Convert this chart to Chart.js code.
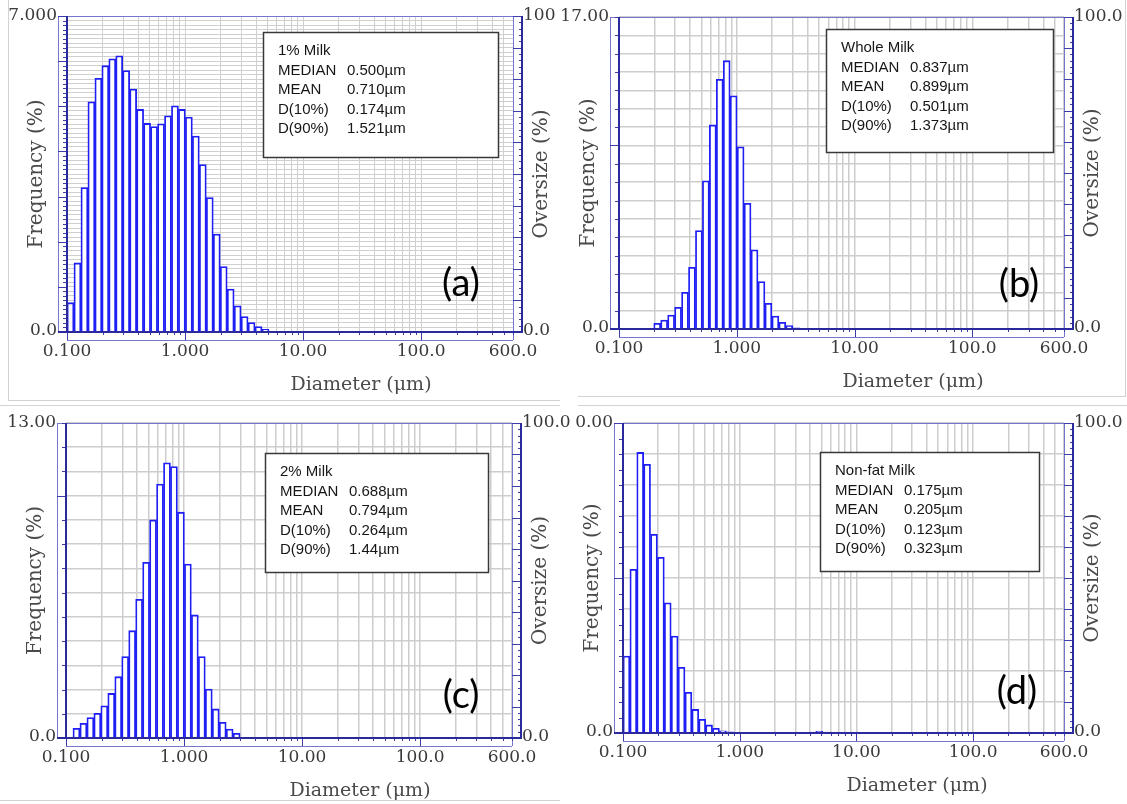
<!DOCTYPE html>
<html>
<head>
<meta charset="utf-8">
<title>Milk particle size distributions</title>
<script src="https://cdn.jsdelivr.net/npm/chart.js@4.4.1/dist/chart.umd.min.js"></script>
<style>
    html, body { margin: 0; padding: 0; background: #ffffff; }
    #page { position: relative; width: 1127px; height: 804px; overflow: hidden; background: #ffffff; }
    #page canvas { position: absolute; }
    .edge { position: absolute; background: #d2d2d2; }
</style>
</head>
<body>
<div id="page">
    <div class="edge" style="left:8px;top:0;width:1px;height:400px"></div>
    <div class="edge" style="left:8px;top:400px;width:552px;height:1px"></div>
    <div class="edge" style="left:1125px;top:0;width:1px;height:396px"></div>
    <div class="edge" style="left:578px;top:396px;width:548px;height:1px"></div>
    <div class="edge" style="left:0;top:405px;width:560px;height:1px"></div>
    <div class="edge" style="left:0;top:800px;width:560px;height:1px"></div>
    <div class="edge" style="left:578px;top:405px;width:549px;height:1px"></div>
    <canvas id="chart-a"></canvas>
    <canvas id="chart-b"></canvas>
    <canvas id="chart-c"></canvas>
    <canvas id="chart-d"></canvas>
</div>
<script>
    // Channel centre diameters (um) of the analyser, one per bar
    var DIAMETERS = [0.107, 0.1226, 0.1404, 0.1609, 0.1843, 0.2111, 0.2418, 0.2770, 0.3173, 0.3635,
        0.4164, 0.4770, 0.5464, 0.6259, 0.7169, 0.8212, 0.9407, 1.078, 1.234, 1.414,
        1.620, 1.856, 2.126, 2.435, 2.789, 3.195, 3.660, 4.192, 4.802, 5.501];

    // Frequency (%) per channel
    var FREQ_1PCT = [0.65, 1.53, 3.20, 5.10, 5.62, 5.90, 6.05, 6.12, 5.79, 5.38,
        4.93, 4.62, 4.55, 4.61, 4.79, 5.01, 4.93, 4.76, 4.34, 3.71,
        2.98, 2.17, 1.45, 0.95, 0.58, 0.34, 0.21, 0.12, 0.06];
    var FREQ_WHOLE = [0, 0, 0, 0, 0, 0.31, 0.49, 0.76, 1.18, 2.00,
        3.36, 5.36, 8.07, 11.12, 13.61, 14.62, 12.71, 9.93, 6.85, 4.31,
        2.58, 1.40, 0.71, 0.37, 0.18, 0.07];
    var FREQ_2PCT = [0, 0.40, 0.61, 0.84, 1.02, 1.33, 1.84, 2.53, 3.36, 4.43,
        5.72, 7.25, 9.00, 10.48, 11.36, 11.20, 9.32, 7.18, 5.08, 3.36,
        2.02, 1.20, 0.65, 0.37, 0.19];
    var FREQ_NONFAT = [4.96, 10.56, 18.10, 17.34, 12.82, 11.34, 8.40, 6.26, 4.24, 2.62,
        1.52, 0.88, 0.52, 0.30, 0.14, 0.08, 0, 0, 0, 0,
        0, 0, 0, 0, 0, 0, 0, 0.06, 0.10, 0.06];

    // Axis labels
    var X_LABEL_VALUES = [0.1, 1, 10, 100, 600];
    var X_LABELS = ['0.100', '1.000', '10.00', '100.0', '600.0'];
    var X_DECADES = [0.1, 1, 10, 100];
    var X_STEPS = [1, 2, 3, 4, 5, 6, 7, 8, 9];
    var STAT_NAMES = ['MEDIAN', 'MEAN', 'D(10%)', 'D(90%)'];
    var STATS_1PCT = ['0.500\u00b5m', '0.710\u00b5m', '0.174\u00b5m', '1.521\u00b5m'];
    var STATS_WHOLE = ['0.837\u00b5m', '0.899\u00b5m', '0.501\u00b5m', '1.373\u00b5m'];
    var STATS_2PCT = ['0.688\u00b5m', '0.794\u00b5m', '0.264\u00b5m', '1.44\u00b5m'];
    var STATS_NONFAT = ['0.175\u00b5m', '0.205\u00b5m', '0.123\u00b5m', '0.323\u00b5m'];

    var BAR_BLUE = 'rgb(30, 30, 245)';
    var FRAME_BLUE = '#7676cc';
    var AXIS_BLUE = '#2a2a9c';
    var TICK_BLUE = '#3c3caa';
    var LABEL_GREY = '#3a3a3a';
    var SERIF = '"DejaVu Serif", "Liberation Serif", serif';

    // vertical grid at 1..9 x each decade
    var X_GRID = [];
    X_DECADES.forEach(function (d) {
        X_STEPS.forEach(function (s) {
            var v = +(d * s).toPrecision(3);
            if (v <= 600) { X_GRID.push(v); }
        });
    });
    X_GRID.push(600);

    var PANELS = [
        { id: 'chart-a', left: 0, top: 0, width: 560, height: 400,
          area: { left: 67, right: 513, top: 16, bottom: 332 },
          freq: FREQ_1PCT, yMax: 7, yGrid: 0.1, yMinor: 0.1, yMajor: 1,
          yTop: '7.000', rightTop: '100', gridColor: '#cfcfcf', gridWidth: 1,
          name: '1% Milk', stats: STATS_1PCT, box: { x: 196, y: 16, w: 235, h: 125 },
          letter: '(a)', letterAt: { dx: -52, dy: -48 } },
        { id: 'chart-b', left: 560, top: 0, width: 567, height: 400,
          area: { left: 59, right: 504, top: 17, bottom: 329 },
          freq: FREQ_WHOLE, yMax: 17, yGrid: 1, yMinor: 1, yMajor: 10,
          yTop: '17.00', rightTop: '100.0', gridColor: '#cdcdcd', gridWidth: 1.5,
          name: 'Whole Milk', stats: STATS_WHOLE, box: { x: 207, y: 12, w: 227, h: 123 },
          letter: '(b)', letterAt: { dx: -45, dy: -44 } },
        { id: 'chart-c', left: 0, top: 400, width: 576, height: 404,
          area: { left: 66, right: 512, top: 23, bottom: 338 },
          freq: FREQ_2PCT, yMax: 13, yGrid: 1, yMinor: 1, yMajor: 10,
          yTop: '13.00', rightTop: '100.0', gridColor: '#cdcdcd', gridWidth: 1.5,
          name: '2% Milk', stats: STATS_2PCT, box: { x: 199, y: 30, w: 223, h: 119 },
          letter: '(c)', letterAt: { dx: -51, dy: -42 } },
        { id: 'chart-d', left: 560, top: 400, width: 567, height: 404,
          area: { left: 63, right: 504, top: 23, bottom: 333 },
          freq: FREQ_NONFAT, yMax: 20, yGrid: 2, yMinor: 1, yMajor: 10,
          yTop: '0.00', rightTop: '100.0', gridColor: '#cdcdcd', gridWidth: 1.5,
          name: 'Non-fat Milk', stats: STATS_NONFAT, box: { x: 197, y: 29, w: 219, h: 119 },
          letter: '(d)', letterAt: { dx: -47, dy: -41 } }
    ];

    function stepValues(max, step) {
        var out = [];
        var n = Math.round(max / step);
        for (var i = 0; i <= n; i++) {
            out.push({ value: +(i * step).toFixed(4) });
        }
        return out;
    }

    function hline(ctx, x1, x2, y, color, w) {
        var o = (w % 2) ? 0.5 : 0;
        ctx.beginPath();
        ctx.strokeStyle = color;
        ctx.lineWidth = w;
        ctx.moveTo(x1, y + o);
        ctx.lineTo(x2, y + o);
        ctx.stroke();
    }

    function vline(ctx, x, y1, y2, color, w) {
        var o = (w % 2) ? 0.5 : 0;
        ctx.beginPath();
        ctx.strokeStyle = color;
        ctx.lineWidth = w;
        ctx.moveTo(x + o, y1);
        ctx.lineTo(x + o, y2);
        ctx.stroke();
    }

    function isMultiple(v, step) {
        var r = v / step;
        return Math.abs(r - Math.round(r)) < 1e-6;
    }

    // Frames, ticks, labels, statistics box and panel letter
    function makeFramePlugin(p) {
        return {
            id: 'psdFrame',
            afterDraw: function (chart) {
                var ctx = chart.ctx;
                var a = chart.chartArea;
                var xs = chart.scales.x, ys = chart.scales.y, os = chart.scales.y2;
                var L = Math.round(a.left), R = Math.round(a.right);
                var T = Math.round(a.top), B = Math.round(a.bottom);
                var outL = L - 9, outR = R + 9, outB = B + 8;
                var i, v, y, x;
                ctx.save();

                // thin outer frame
                hline(ctx, outL, outR, T, FRAME_BLUE, 1);
                vline(ctx, outL, T, B, FRAME_BLUE, 1);
                vline(ctx, R, T, outB, FRAME_BLUE, 1);
                vline(ctx, L, B, outB, FRAME_BLUE, 1);
                hline(ctx, L, R, outB, FRAME_BLUE, 1);

                // frequency ticks
                var nMinor = Math.round(p.yMax / p.yMinor);
                for (i = 0; i <= nMinor; i++) {
                    v = i * p.yMinor;
                    y = Math.round(ys.getPixelForValue(v));
                    hline(ctx, isMultiple(v, p.yMajor) ? outL : L - 4, L, y, TICK_BLUE, 1);
                }
                // oversize ticks
                for (v = 0; v <= 100; v += 2) {
                    y = Math.round(os.getPixelForValue(v));
                    hline(ctx, (v % 10 === 0) ? R : outR - 3, outR, y, TICK_BLUE, 1);
                }
                // diameter ticks
                X_GRID.forEach(function (d) {
                    var px = Math.round(xs.getPixelForValue(d));
                    vline(ctx, px, B, X_DECADES.indexOf(d) >= 0 ? outB : B + 3, TICK_BLUE, 1);
                });

                // dark axis lines
                vline(ctx, L, T, B, AXIS_BLUE, 2);
                vline(ctx, outR, T, B + 1, AXIS_BLUE, 2);
                hline(ctx, outL, outR, B, AXIS_BLUE, 2);

                // tick labels
                ctx.fillStyle = LABEL_GREY;
                ctx.font = '17px ' + SERIF;
                ctx.textBaseline = 'middle';
                ctx.textAlign = 'center';
                for (i = 0; i < X_LABEL_VALUES.length; i++) {
                    x = xs.getPixelForValue(X_LABEL_VALUES[i]);
                    ctx.fillText(X_LABELS[i], x, outB + 12);
                }
                ctx.textAlign = 'right';
                ctx.fillText(p.yTop, outL - 1, T);
                ctx.fillText('0.0', outL - 1, B - 1);
                ctx.textAlign = 'left';
                ctx.fillText(p.rightTop, outR + 1, T);
                ctx.fillText('0.0', outR + 1, B - 1);

                // axis titles
                ctx.fillStyle = '#4a4a4a';
                ctx.font = '20px ' + SERIF;
                ctx.textAlign = 'center';
                ctx.save();
                ctx.translate(L - 30, (T + B) / 2);
                ctx.rotate(-Math.PI / 2);
                ctx.fillText('Frequency (%)', 0, 0);
                ctx.restore();
                ctx.save();
                ctx.translate(R + 29, (T + B) / 2);
                ctx.rotate(-Math.PI / 2);
                ctx.fillText('Oversize (%)', 0, 0);
                ctx.restore();
                ctx.font = '19px ' + SERIF;
                ctx.fillText('Diameter (\u03bcm)', L + 294, B + 53);

                // statistics box
                var bx = L + p.box.x, by = T + p.box.y;
                ctx.fillStyle = '#ffffff';
                ctx.fillRect(bx, by, p.box.w, p.box.h);
                ctx.strokeStyle = '#383838';
                ctx.lineWidth = 1.5;
                ctx.strokeRect(bx + 0.5, by + 0.5, p.box.w, p.box.h);
                ctx.fillStyle = '#161616';
                ctx.font = '15px "Liberation Sans", Arial, sans-serif';
                ctx.textAlign = 'left';
                ctx.fillText(p.name, bx + 15, by + 19);
                for (i = 0; i < STAT_NAMES.length; i++) {
                    ctx.fillText(STAT_NAMES[i], bx + 15, by + 19 + 19.5 * (i + 1));
                    ctx.fillText(p.stats[i], bx + 84, by + 19 + 19.5 * (i + 1));
                }

                // panel letter
                ctx.fillStyle = '#000000';
                ctx.font = '38px Lato, "Open Sans", sans-serif';
                ctx.textAlign = 'center';
                ctx.fillText(p.letter, R + p.letterAt.dx, B + p.letterAt.dy);
                ctx.restore();
            }
        };
    }

    function buildChart(p) {
        var canvas = document.getElementById(p.id);
        canvas.width = p.width;
        canvas.height = p.height;
        canvas.style.left = p.left + 'px';
        canvas.style.top = p.top + 'px';

        var points = p.freq.map(function (f, i) {
            return { x: DIAMETERS[i], y: f };
        });

        return new Chart(canvas, {
            type: 'bar',
            data: {
                datasets: [{
                    data: points,
                    backgroundColor: '#ffffff',
                    borderColor: BAR_BLUE,
                    borderWidth: 1.8,
                    barThickness: 'flex',
                    categoryPercentage: 1,
                    barPercentage: 1
                }]
            },
            options: {
                responsive: false,
                animation: false,
                devicePixelRatio: 1,
                layout: {
                    padding: {
                        left: p.area.left,
                        right: p.width - p.area.right,
                        top: p.area.top,
                        bottom: p.height - p.area.bottom
                    }
                },
                plugins: {
                    legend: { display: false },
                    tooltip: { enabled: false }
                },
                scales: {
                    x: {
                        type: 'logarithmic',
                        min: 0.1,
                        max: 600,
                        offset: false,
                        ticks: { display: false },
                        grid: { color: p.gridColor, lineWidth: p.gridWidth, drawTicks: false, offset: false },
                        border: { display: false },
                        afterBuildTicks: function (scale) {
                            scale.ticks = X_GRID.map(function (g) { return { value: g }; });
                        }
                    },
                    y: {
                        type: 'linear',
                        min: 0,
                        max: p.yMax,
                        ticks: { display: false },
                        grid: { color: p.gridColor, lineWidth: p.gridWidth, drawTicks: false },
                        border: { display: false },
                        afterBuildTicks: function (scale) {
                            scale.ticks = stepValues(p.yMax, p.yGrid);
                        }
                    },
                    y2: {
                        type: 'linear',
                        position: 'right',
                        min: 0,
                        max: 100,
                        ticks: { display: false },
                        grid: { display: false, drawTicks: false },
                        border: { display: false }
                    }
                }
            },
            plugins: [makeFramePlugin(p)]
        });
    }

    PANELS.forEach(buildChart);
</script>
</body>
</html>
